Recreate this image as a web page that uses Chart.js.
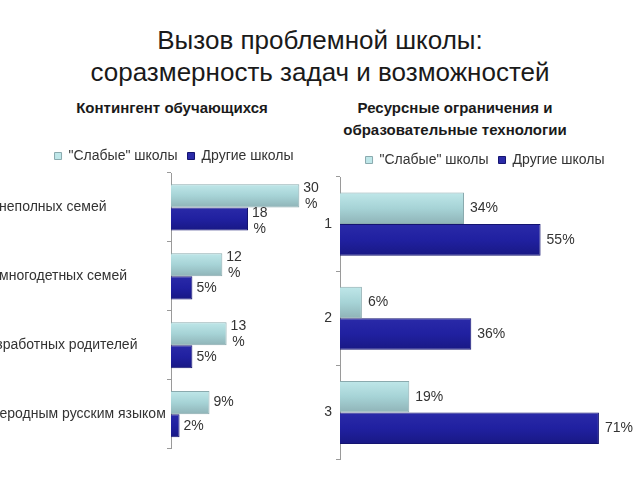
<!DOCTYPE html>
<html lang="ru">
<head>
<meta charset="utf-8">
<script src="https://cdn.jsdelivr.net/npm/chart.js@4/dist/chart.umd.min.js"></script>
<style>
  html, body { margin: 0; padding: 0; background: #fff; }
  body { width: 640px; height: 480px; position: relative; overflow: hidden; font-family: "Liberation Sans", Arial, sans-serif; }
  .title { position: absolute; left: 0; top: 24px; width: 640px; text-align: center; font-size: 26px; line-height: 32px; color: #1a1a1a; }
  .sub { position: absolute; font-weight: bold; font-size: 15px; line-height: 22px; color: #1a1a1a; text-align: center; }
  canvas { position: absolute; }
</style>
</head>
<body>
<div class="title">Вызов проблемной школы:<br>соразмерность задач и возможностей</div>
<div class="sub" style="left:42px; top:97px; width:260px;">Контингент обучающихся</div>
<div class="sub" style="left:315px; top:97px; width:280px;">Ресурсные ограничения и<br>образовательные технологии</div>
<canvas id="left-chart" width="456" height="322" style="left:-54px; top:139px;"></canvas>
<canvas id="right-chart" width="330" height="329" style="left:320px; top:143px;"></canvas>
<script>
// данные
const seriesNames = ['"Слабые" школы', 'Другие школы'];

const contingentLabels = ['Дети из неполных семей', 'Дети из многодетных семей', 'Дети безработных родителей', 'Дети с неродным русским языком'];
const contingentWeak = [30, 12, 13, 9];
const contingentOther = [18, 5, 5, 2];

const resourceLabels = ['1', '2', '3'];
const resourceWeak = [34, 6, 19];
const resourceOther = [55, 36, 71];

const LIGHT_STOPS = ['#bfe7e9', '#a6d3d6', '#8fb3b7'];
const DARK_STOPS = ['#2a2aa8', '#2020a0', '#181884'];
const LIGHT_BORDER = '#8aaaae';
const DARK_BORDER = '#141470';
const AXIS = '#9a9a9a';
const FONT = "'Liberation Sans', Arial, sans-serif";
const CAT_PCT = 0.67;

// вертикальный градиент по высоте столбца
function barFill(stops) {
    return (c) => {
        const chart = c.chart;
        const y = chart.scales.y;
        if (!y || c.dataIndex === undefined || !(y.height > 0)) return stops[1];
        const mid = y.getPixelForValue(c.dataIndex);
        if (!isFinite(mid)) return stops[1];
        const half = y.height / chart.data.labels.length * CAT_PCT / 2;
        const y0 = c.datasetIndex === 0 ? mid - half : mid;
        const g = chart.ctx.createLinearGradient(0, y0, 0, y0 + half);
        g.addColorStop(0, stops[0]);
        g.addColorStop(0.5, stops[1]);
        g.addColorStop(1, stops[2]);
        return g;
    };
}

// подписи значений справа от столбцов
function valueLabels(wrapTwoDigits) {
    return {
        id: 'valueLabels',
        afterDatasetsDraw(chart) {
            const ctx = chart.ctx;
            ctx.save();
            ctx.font = '14px ' + FONT;
            ctx.fillStyle = '#333';
            ctx.textBaseline = 'middle';
            chart.data.datasets.forEach((ds, di) => {
                chart.getDatasetMeta(di).data.forEach((bar, i) => {
                    const v = ds.data[i];
                    if (wrapTwoDigits && v >= 10) {
                        const num = String(v);
                        const w = ctx.measureText(num).width;
                        const shift = di === 1 ? 2 : 0;
                        ctx.textAlign = 'center';
                        ctx.fillText(num, bar.x + 4 + w / 2, bar.y - 8 + shift);
                        ctx.fillText('%', bar.x + 4 + w / 2, bar.y + 8 + shift);
                    } else {
                        ctx.textAlign = 'left';
                        ctx.fillText(v + '%', bar.x + (wrapTwoDigits ? 4 : 6), bar.y);
                    }
                });
            });
            ctx.restore();
        }
    };
}

function makeChart(id, labels, weak, other, opts) {
    return new Chart(document.getElementById(id), {
        type: 'bar',
        data: {
            labels: labels,
            datasets: [
                { label: seriesNames[0], data: weak, backgroundColor: barFill(LIGHT_STOPS), borderColor: LIGHT_BORDER, borderWidth: 1 },
                { label: seriesNames[1], data: other, backgroundColor: barFill(DARK_STOPS), borderColor: DARK_BORDER, borderWidth: 1 }
            ]
        },
        options: {
            indexAxis: 'y',
            responsive: false,
            animation: false,
            devicePixelRatio: 1,
            layout: { padding: 0 },
            datasets: { bar: { barPercentage: 1, categoryPercentage: CAT_PCT } },
            scales: {
                x: { display: false, min: 0, max: opts.max },
                y: {
                    afterFit: (scale) => { scale.width = opts.axisWidth; },
                    grid: { offset: true, drawOnChartArea: false, drawTicks: true, tickLength: 4, color: AXIS },
                    border: { color: AXIS },
                    ticks: { crossAlign: opts.crossAlign, padding: 4, color: '#333', font: { size: 14, family: FONT } }
                }
            },
            plugins: {
                legend: {
                    position: 'top',
                    labels: { boxWidth: 7, boxHeight: 7, padding: 10, color: '#333', font: { size: 14, family: FONT } }
                },
                tooltip: { enabled: false }
            }
        },
        plugins: [valueLabels(opts.wrap)]
    });
}

makeChart('left-chart', contingentLabels, contingentWeak, contingentOther, { max: 54, axisWidth: 225, crossAlign: 'far', wrap: true });
makeChart('right-chart', resourceLabels, resourceWeak, resourceOther, { max: 85, axisWidth: 20, crossAlign: 'near', wrap: false });
</script>
</body>
</html>
